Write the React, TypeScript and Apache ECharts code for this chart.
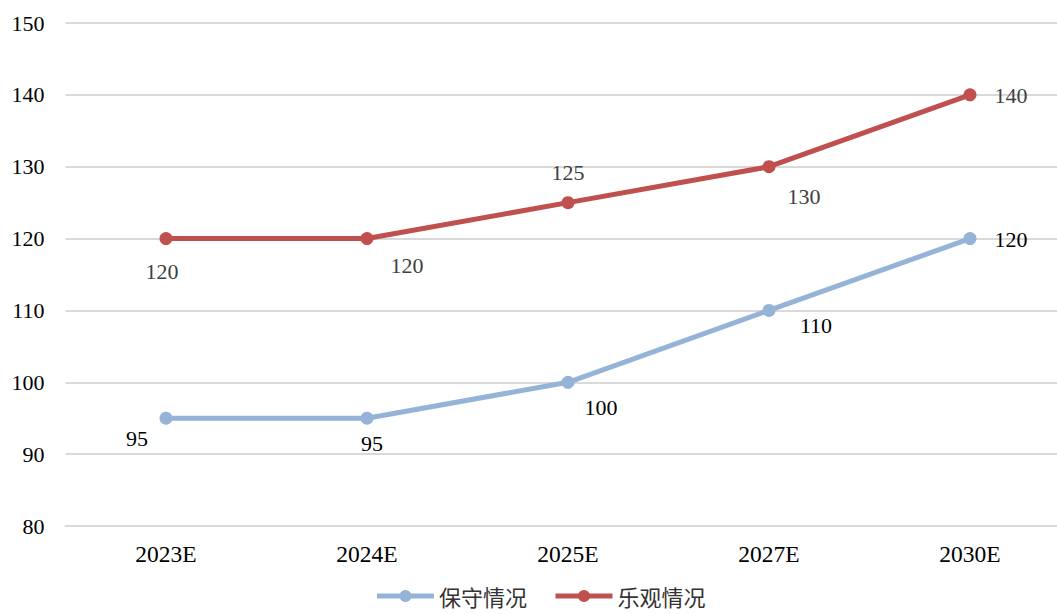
import React, { useEffect, useRef } from "react";
import * as echarts from "echarts";

const categories = ["2023E", "2024E", "2025E", "2027E", "2030E"];
const conservative = [95, 95, 100, 110, 120];
const optimistic = [120, 120, 125, 130, 140];
const conservativeLabelOffsets = [[-29, 20], [5, 25], [33, 25], [47, 15], [41, 1]];
const optimisticLabelOffsets = [[-4, 33], [40, 27], [0, -30], [35, 30], [41, 1]];

const FONT = "'Liberation Serif', 'Times New Roman', serif";

export default function App() {
  const ref = useRef<HTMLDivElement>(null);
  useEffect(() => {
    if (!ref.current) return;
    const chart = echarts.init(ref.current, null, { renderer: "svg" });
    const mk = (vals: number[], offs: number[][], color: string) =>
      vals.map((v, i) => ({
        value: v,
        label: {
          show: true,
          position: "inside",
          offset: offs[i],
          color,
          fontSize: 22,
          fontFamily: FONT,
        },
      }));
    chart.setOption({
      animation: false,
      backgroundColor: "#ffffff",
      grid: { left: 65.5, right: 9.5, top: 23, bottom: 88 },
      legend: {
        top: 585,
        left: "center",
        itemWidth: 57,
        itemHeight: 15,
        itemGap: 26,
        padding: 0,
        lineStyle: { width: 5 },
        textStyle: { fontSize: 22, fontFamily: "'Noto Sans CJK SC', sans-serif", color: "#333" },
        data: ["保守情况", "乐观情况"],
      },
      xAxis: {
        type: "category",
        data: categories,
        boundaryGap: true,
        axisLine: { lineStyle: { color: "#d9d9d9", width: 2 } },
        axisTick: { show: false },
        axisLabel: { fontSize: 23.5, fontFamily: FONT, color: "#000", margin: 16 },
      },
      yAxis: {
        type: "value",
        min: 80,
        max: 150,
        interval: 10,
        axisLine: { show: false },
        axisTick: { show: false },
        axisLabel: { fontSize: 22, fontFamily: FONT, color: "#000", margin: 21 },
        splitLine: { lineStyle: { color: "#d9d9d9", width: 2 } },
      },
      series: [
        {
          name: "保守情况",
          type: "line",
          data: mk(conservative, conservativeLabelOffsets, "#000000"),
          symbol: "circle",
          symbolSize: 13,
          lineStyle: { color: "#95B3D7", width: 5 },
          itemStyle: { color: "#95B3D7" },
        },
        {
          name: "乐观情况",
          type: "line",
          data: mk(optimistic, optimisticLabelOffsets, "#404040"),
          symbol: "circle",
          symbolSize: 13,
          lineStyle: { color: "#C0504D", width: 5 },
          itemStyle: { color: "#C0504D" },
        },
      ],
    });
    return () => chart.dispose();
  }, []);
  return (
    <div style={{ position: "fixed", left: 0, top: 0, width: 1057, height: 614, overflow: "hidden", background: "#fff" }}>
      <div ref={ref} style={{ width: 1080, height: 614 }} />
    </div>
  );
}
